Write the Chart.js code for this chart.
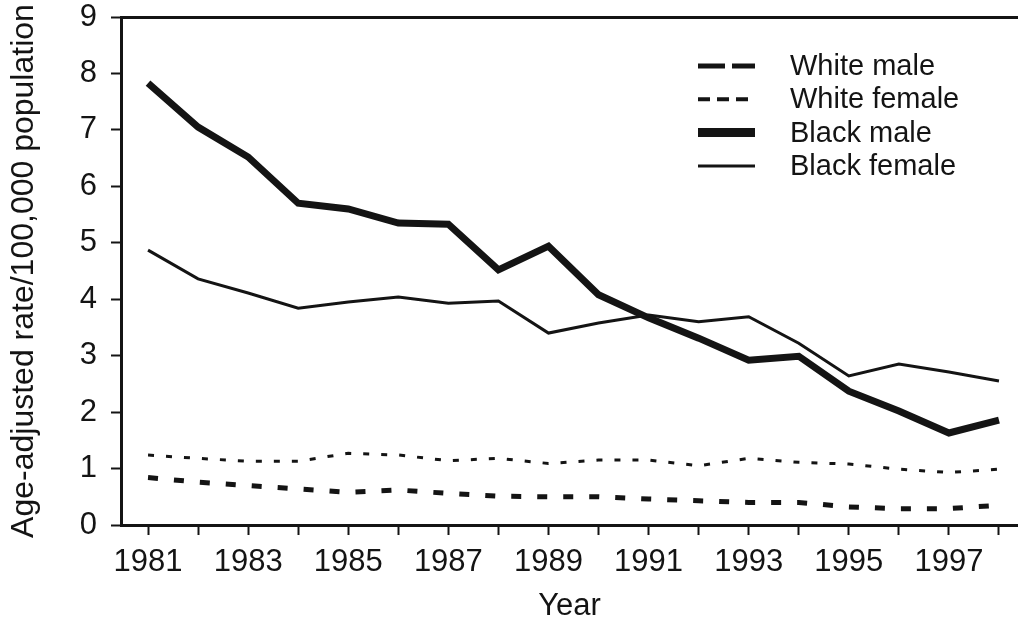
<!DOCTYPE html>
<html>
<head>
<meta charset="utf-8">
<script src="https://cdn.jsdelivr.net/npm/chart.js@4.4.1/dist/chart.umd.min.js"></script>
<style>
    body { margin: 0; background: #fff; }
    #chartBox { width: 1018px; height: 627px; }
</style>
</head>
<body>
<div id="chartBox"><canvas id="myChart" width="1018" height="627"></canvas></div>
<script>
// Data
const years = [1981, 1982, 1983, 1984, 1985, 1986, 1987, 1988, 1989, 1990, 1991, 1992, 1993, 1994, 1995, 1996, 1997, 1998];
const whiteMale = [0.84, 0.76, 0.70, 0.64, 0.58, 0.62, 0.56, 0.51, 0.50, 0.50, 0.46, 0.43, 0.40, 0.40, 0.32, 0.29, 0.29, 0.35];
const whiteFemale = [1.24, 1.18, 1.13, 1.13, 1.27, 1.24, 1.14, 1.18, 1.09, 1.15, 1.15, 1.05, 1.18, 1.11, 1.08, 0.99, 0.93, 0.99];
const blackMale = [7.83, 7.05, 6.52, 5.70, 5.60, 5.35, 5.33, 4.52, 4.94, 4.08, 3.67, 3.31, 2.92, 2.99, 2.37, 2.02, 1.63, 1.86];
const blackFemale = [4.87, 4.36, 4.11, 3.84, 3.95, 4.04, 3.93, 3.97, 3.40, 3.58, 3.72, 3.60, 3.69, 3.22, 2.64, 2.85, 2.71, 2.55];
const seriesLabels = ['White male', 'White female', 'Black male', 'Black female'];
const yTickValues = [0, 1, 2, 3, 4, 5, 6, 7, 8, 9];

const ink = '#141414';
const fontFamily = '"Liberation Sans", Arial, Helvetica, sans-serif';

function toPoints(values) {
    return years.map(function (yr, i) { return { x: yr, y: values[i] }; });
}

// Legend drawn inside the plot, top right (line sample + label)
const insideLegend = {
    id: 'insideLegend',
    afterDraw: function (chart, args, opts) {
        const ctx = chart.ctx;
        ctx.save();
        chart.data.datasets.forEach(function (ds, i) {
            const y = opts.top + i * opts.rowGap;
            ctx.beginPath();
            ctx.setLineDash(opts.dash[i]);
            ctx.lineWidth = opts.width[i];
            ctx.strokeStyle = ink;
            ctx.lineCap = 'butt';
            ctx.moveTo(opts.lineLeft, y);
            ctx.lineTo(opts.lineRight, y);
            ctx.stroke();
            ctx.setLineDash([]);
            ctx.fillStyle = ink;
            ctx.font = opts.fontSize + 'px ' + fontFamily;
            ctx.textBaseline = 'middle';
            ctx.textAlign = 'left';
            ctx.fillText(ds.label, opts.textLeft, y + 1);
        });
        ctx.restore();
    }
};

const ctx = document.getElementById('myChart').getContext('2d');
const myChart = new Chart(ctx, {
    type: 'line',
    data: {
        datasets: [{
            label: seriesLabels[0],
            data: toPoints(whiteMale),
            borderColor: ink,
            borderWidth: 5,
            borderDash: [10, 16]
        }, {
            label: seriesLabels[1],
            data: toPoints(whiteFemale),
            borderColor: ink,
            borderWidth: 3,
            borderDash: [6, 12]
        }, {
            label: seriesLabels[2],
            data: toPoints(blackMale),
            borderColor: ink,
            borderWidth: 7
        }, {
            label: seriesLabels[3],
            data: toPoints(blackFemale),
            borderColor: ink,
            borderWidth: 3
        }]
    },
    options: {
        responsive: false,
        animation: false,
        devicePixelRatio: 1,
        layout: { padding: 0 },
        elements: {
            point: { radius: 0 },
            line: { tension: 0, borderJoinStyle: 'miter', borderCapStyle: 'butt', fill: false }
        },
        plugins: {
            legend: { display: false },
            tooltip: { enabled: false },
            insideLegend: {
                top: 66, rowGap: 33.3,
                lineLeft: 698, lineRight: 755, textLeft: 790,
                fontSize: 29,
                dash: [[27, 7], [12, 7], [], []],
                width: [5, 4, 9, 3]
            }
        },
        scales: {
            x: {
                type: 'linear',
                position: 'bottom',
                min: 1980.46,
                max: 1998.38,
                afterFit: function (scale) {
                    scale.height = 102;
                    scale.paddingLeft = 0;
                    scale.paddingRight = 0;
                },
                ticks: {
                    stepSize: 1,
                    includeBounds: false,
                    autoSkip: false,
                    maxRotation: 0,
                    color: ink,
                    padding: 9,
                    font: { family: fontFamily, size: 31 },
                    callback: function (v) { return v % 2 === 1 ? String(v) : ''; }
                },
                grid: { drawOnChartArea: false, drawTicks: true, tickLength: 10, tickWidth: 2, color: ink },
                border: { color: ink, width: 3 },
                title: { display: true, text: 'Year', color: ink, font: { family: fontFamily, size: 31 }, padding: { top: 0, bottom: 2 } }
            },
            xTop: {
                type: 'linear',
                position: 'top',
                afterFit: function (scale) { scale.height = 17; },
                ticks: { display: false },
                grid: { display: false },
                border: { color: ink, width: 3 }
            },
            y: {
                min: 0,
                max: 9,
                afterFit: function (scale) {
                    scale.width = 121;
                    scale.paddingTop = 0;
                    scale.paddingBottom = 0;
                },
                afterBuildTicks: function (scale) {
                    scale.ticks = yTickValues.map(function (v) { return { value: v }; });
                },
                ticks: {
                    color: ink,
                    padding: 14,
                    font: { family: fontFamily, size: 31 }
                },
                grid: { drawOnChartArea: false, drawTicks: true, tickLength: 10, tickWidth: 2, color: ink },
                border: { color: ink, width: 3 },
                title: { display: true, text: 'Age-adjusted rate/100,000 population', color: ink, font: { family: fontFamily, size: 32 }, padding: { top: 5, bottom: 0 } }
            }
        }
    },
    plugins: [insideLegend]
});
</script>
</body>
</html>
